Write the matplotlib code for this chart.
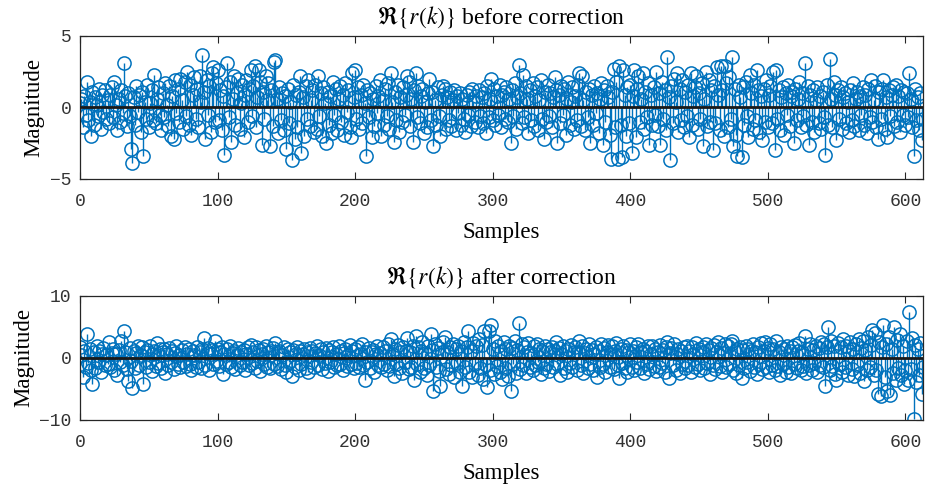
import numpy as np
import matplotlib
matplotlib.use("Agg")
import matplotlib.pyplot as plt

# Re{r(k)} before correction
before = [
    0.3, 0.6, -1.4, 0.8, -0.5, 1.8, -0.9, 0.4, -2.0, 1.1, -1.2, 0.7, 0.2, -0.6, 1.3, -1.5, 0.9, -0.3, 1.2, -0.8,
    0.5, -1.1, 0.9, 1.4, -0.7, 1.8, 0.2, -1.6, 0.6, -1.0, 1.2, -0.4, 3.1, 0.8, -1.3, 1.0, -0.6, -2.9, -3.9, 0.7,
    -1.2, 1.5, -0.3, 0.9, -1.7, 1.1, -3.4, 0.4, -0.8, 1.6, -1.4, 0.3, 1.2, -0.9, 2.3, -1.1, 0.6, 1.4, -0.5, -1.6,
    1.0, -0.7, 1.7, 0.2, -1.3, 1.5, -2.0, 0.8, -2.2, 1.9, -0.4, 1.3, -1.0, 2.0, 0.5, -1.5, 1.8, -0.6, 2.5, -1.2,
    1.6, -1.9, 0.9, 2.1, -0.8, 1.3, -1.4, 2.2, 0.4, 3.7, 1.1, -2.2, 1.9, -0.5, 1.5, -1.7, 2.4, 2.8, -1.0, 1.7,
    2.6, -0.9, 1.2, -1.6, 0.8, -3.3, 1.4, 3.1, -0.7, 1.8, -2.4, 0.6, 2.2, -1.2, 1.0, 2.0, -1.5, 0.3, 1.6, -2.1,
    0.9, 1.9, -1.0, 1.3, 2.6, -0.6, 1.5, 2.9, -1.4, 0.7, 2.6, 1.8, -2.6, 1.1, -0.8, 2.2, 0.5, 1.7, -2.7, 1.2,
    -1.3, 3.2, 3.3, 0.6, -1.8, 1.4, -0.9, 1.0, -1.6, 0.8, -2.9, 1.3, -1.1, 0.4, -3.7, 1.6, -2.2, 0.9, -1.4, 1.1,
    2.2, -3.2, 0.7, -2.0, 1.5, -0.8, 1.9, -1.3, 0.5, 1.2, -1.7, 1.6, -1.5, 2.2, -0.6, 1.0, -2.0, 1.4, 0.3, -2.5,
    1.1, -1.2, 0.8, -1.8, 1.8, -0.5, 1.3, -1.6, 0.6, 1.5, -1.0, 0.9, -1.9, 1.7, -0.3, 1.2, -1.4, -2.1, 2.4, 0.7,
    2.6, -0.8, 1.4, -1.5, 0.9, -1.1, 1.6, 0.3, -3.4, 1.2, -0.7, 1.0, -2.1, 0.6, -1.3, 1.5, -0.4, 0.8, 1.9, -2.0,
    0.5, -1.2, 1.3, -0.6, 1.7, -1.5, 2.4, 0.4, -2.4, 1.1, -0.9, 1.6, -1.7, 0.7, -1.0, 1.4, -0.5, 0.9, 2.2, 1.8,
    -1.3, 0.6, -2.4, 1.2, 2.4, -0.7, 1.5, -1.1, 0.8, 1.3, -1.8, 0.4, -1.4, 1.0, 2.0, -0.9, 1.1, -2.7, 0.5, -1.2,
    1.4, -0.6, -2.0, 0.9, 1.5, 1.3, -1.5, 0.7, -0.9, 1.1, -1.3, 0.5, 1.2, -1.6, 0.8, -0.4, 1.0, -1.2, 0.6, -0.8,
    -1.7, 0.9, -0.5, 1.1, -1.3, 1.3, 0.4, -1.0, 0.8, -1.4, 1.2, -0.6, 0.7, -1.1, 1.0, -1.8, 1.5, -0.7, 0.6, 2.0,
    -0.9, 1.3, -1.2, 0.8, -0.5, 1.6, -1.4, 0.9, 1.1, -0.8, 1.4, -1.0, 0.6, -2.5, 1.2, -0.6, 1.7, -1.5, 0.7, 3.0,
    1.0, -1.1, 2.3, -0.7, 1.5, 0.6, -1.8, 1.2, -0.9, 1.7, -1.3, 0.8, 1.4, -1.6, 0.5, 1.9, -0.8, -2.2, 1.1, -1.0,
    1.6, -0.6, 1.0, -1.4, 0.7, 2.1, 1.2, -2.5, 0.9, -1.1, 1.5, -0.5, 1.3, -1.9, 0.6, 1.8, -1.2, 0.4, 1.4, -1.5,
    0.8, -0.9, 1.6, 2.4, -1.3, 2.2, 0.5, -1.6, 1.1, -0.7, 1.3, -2.5, 0.9, -1.2, 1.5, -0.4, 1.0, -1.8, 0.6, 1.7,
    -2.6, 1.2, -1.0, 1.5, 0.7, -1.9, -3.6, 1.1, 2.7, -1.4, 1.8, -3.6, 2.9, -1.2, -3.5, 2.6, 0.9, -2.0, 1.4, -1.1,
    1.6, -3.2, 0.8, 2.6, -2.1, 1.3, 2.2, -1.0, 0.6, 2.4, -1.5, 1.1, -0.7, 1.7, -2.6, 0.9, -1.2, 1.4, -0.5, 2.5,
    -1.3, 1.0, -2.6, 1.8, -0.8, 1.2, -1.6, 3.5, 0.7, -3.7, 1.5, -1.1, 2.0, 0.4, 2.4, -1.7, 1.3, -0.9, 1.9, -1.4,
    1.1, -0.6, 1.6, -2.1, 2.4, -1.2, 0.8, 1.4, 2.2, -1.5, 1.0, -0.8, 1.7, -2.7, 0.6, 2.5, -1.3, 1.9, -1.0, 1.2,
    -3.0, 1.5, -1.1, 2.8, 0.9, -1.6, 2.9, 1.2, -2.0, 2.9, 1.7, -1.4, 2.1, -0.8, 3.5, -2.7, 1.3, -1.9, -3.4, 1.6,
    0.7, -3.5, 1.4, -1.2, 1.8, -0.6, -2.1, 2.3, 1.0, -1.5, 1.6, -0.9, 2.6, 1.2, -1.7, 0.8, -2.3, 1.3, -1.0, 1.9,
    -1.4, 0.9, 1.5, -1.1, 2.5, -3.0, 2.6, -0.8, 1.2, -1.6, 0.7, 1.4, -1.9, 1.0, -0.5, 1.6, -1.3, 0.8, 1.1, -2.5,
    1.3, -0.9, 0.6, 1.8, -1.4, 1.0, -0.6, 3.1, -1.2, 1.5, -2.6, 0.9, -1.0, 1.2, -1.7, 0.5, 1.4, -1.1, 0.8, -1.5,
    1.1, -0.7, -3.3, 1.6, -1.2, 3.4, 0.6, -1.4, 1.8, 0.9, -2.3, 1.2, -0.8, 1.4, -1.5, 0.7, 1.0, -1.1, 0.4, -1.7,
    1.2, -0.9, 1.7, -1.3, 0.6, 1.1, -1.6, 0.8, -0.5, 1.4, -1.2, 0.9, -1.8, 1.3, -0.7, 1.9, -1.0, 0.5, 1.5, -1.4,
    -2.2, 1.1, -0.8, 1.3, 1.9, -1.5, 0.7, -2.1, 1.2, -0.6, 0.9, 1.4, -1.3, 1.6, -1.0, 0.8, -1.7, 1.2, -0.5, 1.1,
    -1.2, 1.0, -0.7, 2.4, 0.6, -1.4, -3.4, 1.3, -0.9, 0.7, -1.6, 1.0, -2.3, -0.8,
]

# Re{r(k)} after correction
after = [
    1.8, 0.5, -3.0, 1.2, -1.4, 3.9, -0.8, 1.5, -1.9, -4.2, 0.9, -1.6, 2.0, -0.6, 1.1, -2.2, 0.7, 1.6, -1.2, 0.4,
    -0.9, 2.5, -1.5, 0.8, 1.4, -2.0, 0.6, -2.8, 1.3, -0.7, 2.7, -1.1, 4.3, 0.9, -1.8, -3.7, 1.6, -0.5, -4.8, 1.2,
    -1.6, 0.8, 2.0, -1.2, 0.5, 1.7, -4.2, 0.9, -1.4, 1.3, -0.7, 1.9, -2.1, 0.6, 1.1, -1.3, 2.4, -0.8, 1.5, -1.7,
    0.9, 1.4, -2.5, 0.7, -1.1, 1.6, -0.6, 1.2, -1.8, 0.8, 1.9, -1.0, 0.5, -1.5, 1.3, -0.7, 1.7, -1.3, 0.6, 1.4,
    -0.9, -2.0, 1.1, 0.4, -1.4, 1.8, -0.6, 1.0, -1.6, 1.5, 3.2, -1.2, 0.8, 1.6, -1.9, 0.7, 1.3, -1.0, 2.7, -0.5,
    1.5, -1.3, 0.9, 1.8, -2.6, 0.6, -1.0, 1.4, -0.7, 1.9, -1.5, 0.8, 1.2, -1.8, 0.5, 1.6, -1.1, 0.9, -0.6, 1.3,
    -1.9, 0.7, 1.7, -1.2, 2.1, -0.8, 1.0, -1.6, 1.8, -0.5, 1.3, -2.1, 0.6, 1.5, -1.0, 2.0, -1.4, 0.9, -1.7, 1.2,
    1.6, -0.9, 2.4, -1.3, 0.8, 1.1, -1.8, 0.5, 1.7, -1.1, -2.2, 1.4, -0.7, 1.0, -2.9, 1.3, -1.5, 0.6, 1.8, -2.0,
    1.2, -1.0, 0.7, 1.5, -1.7, 0.9, -2.3, 1.6, -0.6, 1.1, -1.4, 0.8, 1.9, -1.2, 0.5, 1.4, -1.8, 1.0, -0.8, 1.6,
    -2.1, 1.3, -0.7, 0.9, 1.7, -1.5, 0.6, -1.1, 2.0, -0.9, 1.2, -1.9, 0.8, 1.5, -1.3, 0.4, 2.1, -1.0, 1.1, -1.6,
    1.4, -0.8, 1.8, -1.4, 0.7, 2.2, -1.1, -3.5, 1.0, -0.6, 1.6, -1.7, 0.9, 1.3, -2.2, 0.6, 1.9, -1.2, 0.8, -1.5,
    1.7, -0.9, 1.1, -2.0, 2.3, -1.3, 3.0, 0.7, -2.9, 1.5, -1.0, 2.1, -1.6, 0.9, -2.4, 1.8, -0.7, 1.2, 3.2, -1.8,
    1.0, -1.4, 2.0, -3.5, 3.6, -0.9, 1.7, -2.3, 1.2, 2.6, -1.6, 0.8, -2.7, 1.9, -1.1, 3.8, 1.3, -5.3, 2.2, -1.5,
    1.6, -2.1, -4.5, 1.0, 2.5, 3.4, -1.8, 0.9, -2.6, 1.8, -1.2, 2.3, -3.0, 1.4, -0.8, 2.0, -2.2, 1.1, -4.5, 2.6,
    -1.4, 1.7, 4.4, -2.3, 1.2, -3.1, 2.4, -1.0, 1.9, -2.7, 3.0, -1.6, 2.1, -3.4, 4.4, -1.2, -4.7, 4.3, -2.0, 5.3,
    1.5, -2.6, 2.8, -1.3, 1.9, -2.2, 1.1, -3.4, 2.5, -1.7, 1.4, -2.9, 2.0, -5.3, 1.6, -1.0, 2.7, -2.4, 1.3, 5.6,
    -1.8, 2.2, -1.1, 1.7, -2.5, 1.0, 2.4, -1.5, 0.8, -2.0, 1.9, -1.2, 2.3, -0.7, 1.4, -2.6, 1.1, -1.6, 2.0, -0.9,
    1.5, -2.1, 0.9, 1.8, -1.4, 1.2, 2.6, -1.0, 1.6, -2.8, 0.7, 1.9, -1.7, 1.1, -2.2, 1.4, -0.8, 2.1, -1.5, 0.9,
    1.7, -1.9, 1.0, 2.7, -1.2, 2.0, -2.4, 0.8, 1.5, -1.6, 2.2, -1.0, 1.3, -2.0, 0.6, 1.8, -3.1, 1.1, -1.4, 2.3,
    -0.9, 1.6, -2.2, 1.0, 2.1, -1.5, 0.7, 1.9, -1.8, 1.2, 2.4, -1.1, -3.3, 1.5, -0.8, 2.0, -1.7, 1.3, -2.3, 0.9,
    2.2, -1.4, 1.1, -2.0, 1.7, -0.7, 2.3, -1.6, 0.9, 1.5, -2.4, 1.2, -1.0, 1.9, -1.8, 0.6, 2.0, -1.3, 1.4, -2.1,
    1.0, -1.5, 2.1, -0.8, 1.3, -2.2, 1.7, 2.6, -3.2, 0.8, 1.6, -1.2, 2.2, -1.9, 0.7, 1.4, -2.5, 1.1, -0.9, 1.8,
    -1.6, 2.0, -1.1, 1.2, -2.3, 1.7, 0.6, -1.4, 2.4, -1.0, 1.5, -2.0, 0.9, 1.8, -1.7, 2.2, -0.8, 1.3, -2.6, 1.6,
    -1.2, 2.1, -1.8, 1.0, 2.5, -1.3, 1.6, -2.2, 0.8, 2.3, -1.5, 1.9, -0.9, 2.2, 2.8, -1.9, 1.2, -2.4, 1.5, -1.1,
    1.8, -3.2, 1.3, -1.6, 2.0, -0.7, 1.4, -2.1, 1.1, 2.3, -1.4, 0.9, -2.6, 1.7, -1.0, 2.4, -1.8, 1.2, 2.5, -1.5,
    1.6, -2.3, 2.2, -1.1, 1.5, -2.0, 2.7, -1.3, 1.0, -2.7, 1.8, -0.9, 1.4, -2.2, 2.0, -1.5, 1.1, -2.5, 1.7, -1.0,
    2.1, -1.7, 1.2, 2.4, -2.0, 0.9, -1.3, 3.5, -2.4, 1.5, -1.1, 2.2, -1.9, 1.3, -0.8, 2.0, -2.3, 1.6, -1.2, 2.6,
    -1.5, 2.3, -4.5, 1.8, 5.0, -2.0, 2.8, -1.3, 1.9, -2.6, -3.5, 2.4, -1.0, 1.7, -2.2, 3.0, -1.4, 2.0, -2.8, 1.2,
    2.5, -1.8, 1.4, -2.9, 2.2, -1.2, 3.1, -2.4, 1.6, 2.7, -3.8, 1.3, -2.0, 3.4, -1.5, 2.1, 4.5, -2.7, 4.0, -1.9,
    -5.8, 2.6, -6.1, 1.8, 5.3, -3.0, 2.2, -5.4, 3.3, -6.0, 1.5, -2.4, 5.0, -3.6, 2.9, -1.7, 3.8, -2.8, 1.9, -4.2,
    -2.0, 2.8, -3.5, 7.4, -1.8, 3.2, -9.8, 2.1, -3.9, 1.4, -2.7, 2.4, -5.9, -1.5,
]

titles = [r"$\Re\{r(k)\}$ before correction", r"$\Re\{r(k)\}$ after correction"]
ylims = [(-5, 5), (-10, 10)]
yticks = [[-5, 0, 5], [-10, 0, 10]]
xticks = [0, 100, 200, 300, 400, 500, 600]

plt.rcParams["mathtext.fontset"] = "stix"
plt.rcParams["font.family"] = "Liberation Serif"

blue = "#0072BD"
axcol = "#262626"

fig = plt.figure(figsize=(9.25, 4.86), dpi=100)
boxes = [[0.0865, 0.632, 0.9115, 0.294], [0.0865, 0.136, 0.9115, 0.255]]

for i, series in enumerate([before, after]):
    ax = fig.add_axes(boxes[i])
    k = np.arange(len(series))
    markerline, stemlines, baseline = ax.stem(k, series, basefmt=" ")
    markerline.set_color(blue)
    markerline.set_markerfacecolor("none")
    markerline.set_markersize(9.5)
    markerline.set_markeredgewidth(1.1)
    stemlines.set_color(blue)
    stemlines.set_linewidth(1.0)
    ax.axhline(0, color="#1a1a1a", lw=2.0, zorder=5)

    ax.set_xlim(0, len(series) - 1)
    ax.set_ylim(*ylims[i])
    ax.set_xticks(xticks)
    ax.set_yticks(yticks[i])
    ax.tick_params(direction="in", top=True, right=True, length=5, width=0.8,
                   colors=axcol, labelsize=13, pad=6)
    ax.tick_params(axis="x", pad=10)
    for lab in ax.get_xticklabels() + ax.get_yticklabels():
        lab.set_family("Liberation Mono")
        lab.set_color("#333333")
    for sp in ax.spines.values():
        sp.set_color(axcol)
        sp.set_linewidth(0.9)

    ax.set_title(titles[i], fontsize=17, pad=9)
    ax.set_xlabel("Samples", fontsize=16.5, labelpad=8.5)
    ax.set_ylabel("Magnitude", fontsize=16.5, labelpad=4)

fig.savefig("out.png", dpi=100)
